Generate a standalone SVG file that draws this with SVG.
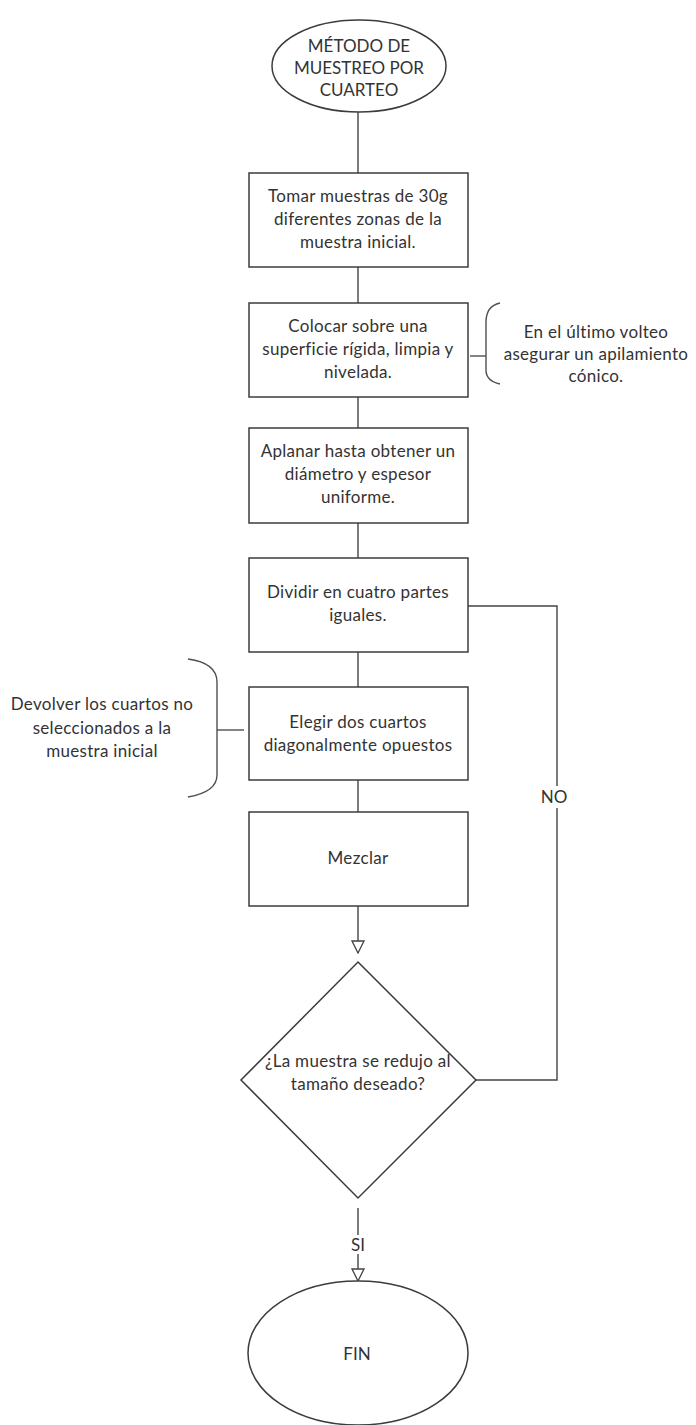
<svg xmlns="http://www.w3.org/2000/svg" width="696" height="1425" viewBox="0 0 696 1425">
  <style>
    .shape { fill: #ffffff; stroke: #3c3c3c; stroke-width: 1.5; }
    .conn { fill: none; stroke: #444444; stroke-width: 1.4; }
    .brace { fill: none; stroke: #505050; stroke-width: 1.4; }
    text { font-family: Lato, "Liberation Sans", sans-serif; font-size: 17px; letter-spacing: 0.3px; fill: #333333; text-anchor: middle; }
    .caps { letter-spacing: 0; }
    .label-bg { fill: #ffffff; }
  </style>
  <defs>
    <marker id="hollow-arrow" viewBox="0 0 14 14" refX="13" refY="7" markerWidth="14" markerHeight="14" markerUnits="userSpaceOnUse" orient="auto">
      <path d="M1,1 L13,7 L1,13 Z" fill="#ffffff" stroke="#444444" stroke-width="1.3"/>
    </marker>
  </defs>

  <rect width="696" height="1425" fill="#ffffff"/>

  <!-- connectors -->
  <g id="connectors">
    <line class="conn" x1="358" y1="112" x2="358" y2="173"/>
    <line class="conn" x1="358" y1="267" x2="358" y2="303"/>
    <line class="conn" x1="358" y1="397" x2="358" y2="428"/>
    <line class="conn" x1="358" y1="523" x2="358" y2="558"/>
    <line class="conn" x1="358" y1="652" x2="358" y2="687"/>
    <line class="conn" x1="358" y1="780" x2="358" y2="812"/>
    <line class="conn" x1="358" y1="906" x2="358" y2="953" marker-end="url(#hollow-arrow)"/>
    <polyline class="conn" points="476,1080 557,1080 557,606 468,606"/>
    <rect class="label-bg" x="539" y="786" width="34" height="22"/>
    <text class="caps" x="554" y="803">NO</text>
    <line class="conn" x1="358" y1="1208" x2="358" y2="1235"/>
    <text class="caps" x="358" y="1251">SI</text>
    <line class="conn" x1="358" y1="1254" x2="358" y2="1281" marker-end="url(#hollow-arrow)"/>
  </g>

  <g id="start">
    <ellipse class="shape" cx="359" cy="66" rx="87" ry="46"/>
    <text class="caps" x="359" y="52">MÉTODO DE</text>
    <text class="caps" x="359" y="74">MUESTREO POR</text>
    <text class="caps" x="359" y="96">CUARTEO</text>
  </g>

  <g id="step-tomar">
    <rect class="shape" x="249" y="173" width="219" height="94"/>
    <text x="358" y="202">Tomar muestras de 30g</text>
    <text x="358" y="225">diferentes zonas de la</text>
    <text x="358" y="248">muestra inicial.</text>
  </g>

  <g id="step-colocar">
    <rect class="shape" x="249" y="303" width="219" height="94"/>
    <text x="358" y="332">Colocar sobre una</text>
    <text x="358" y="355">superficie rígida, limpia y</text>
    <text x="358" y="378">nivelada.</text>
  </g>

  <g id="note-volteo">
    <path class="brace" d="M500,303 Q486,306 486,322 L486,370 Q486,381 500,384"/>
    <line class="brace" x1="470" y1="356" x2="486" y2="356"/>
    <text x="596" y="338">En el último volteo</text>
    <text x="596" y="360">asegurar un apilamiento</text>
    <text x="596" y="382">cónico.</text>
  </g>

  <g id="step-aplanar">
    <rect class="shape" x="249" y="428" width="219" height="95"/>
    <text x="358" y="457">Aplanar hasta obtener un</text>
    <text x="358" y="480">diámetro y espesor</text>
    <text x="358" y="503">uniforme.</text>
  </g>

  <g id="step-dividir">
    <rect class="shape" x="249" y="558" width="219" height="94"/>
    <text x="358" y="598">Dividir en cuatro partes</text>
    <text x="358" y="621">iguales.</text>
  </g>

  <g id="step-elegir">
    <rect class="shape" x="249" y="687" width="219" height="93"/>
    <text x="358" y="728">Elegir dos cuartos</text>
    <text x="358" y="751">diagonalmente opuestos</text>
  </g>

  <g id="note-devolver">
    <path class="brace" d="M188,659 Q217,663 217,682 L217,775 Q217,792 188,797"/>
    <line class="brace" x1="217" y1="730" x2="244" y2="730"/>
    <text x="102" y="710">Devolver los cuartos no</text>
    <text x="102" y="734">seleccionados a la</text>
    <text x="102" y="757">muestra inicial</text>
  </g>

  <g id="step-mezclar">
    <rect class="shape" x="249" y="812" width="219" height="94"/>
    <text x="358" y="864">Mezclar</text>
  </g>

  <g id="decision">
    <polygon class="shape" points="358,962 476,1080 358,1198 241,1080"/>
    <text x="358" y="1067">¿La muestra se redujo al</text>
    <text x="358" y="1090">tamaño deseado?</text>
  </g>

  <g id="end">
    <ellipse class="shape" cx="358" cy="1353" rx="110" ry="72"/>
    <text class="caps" x="357" y="1360">FIN</text>
  </g>
</svg>
